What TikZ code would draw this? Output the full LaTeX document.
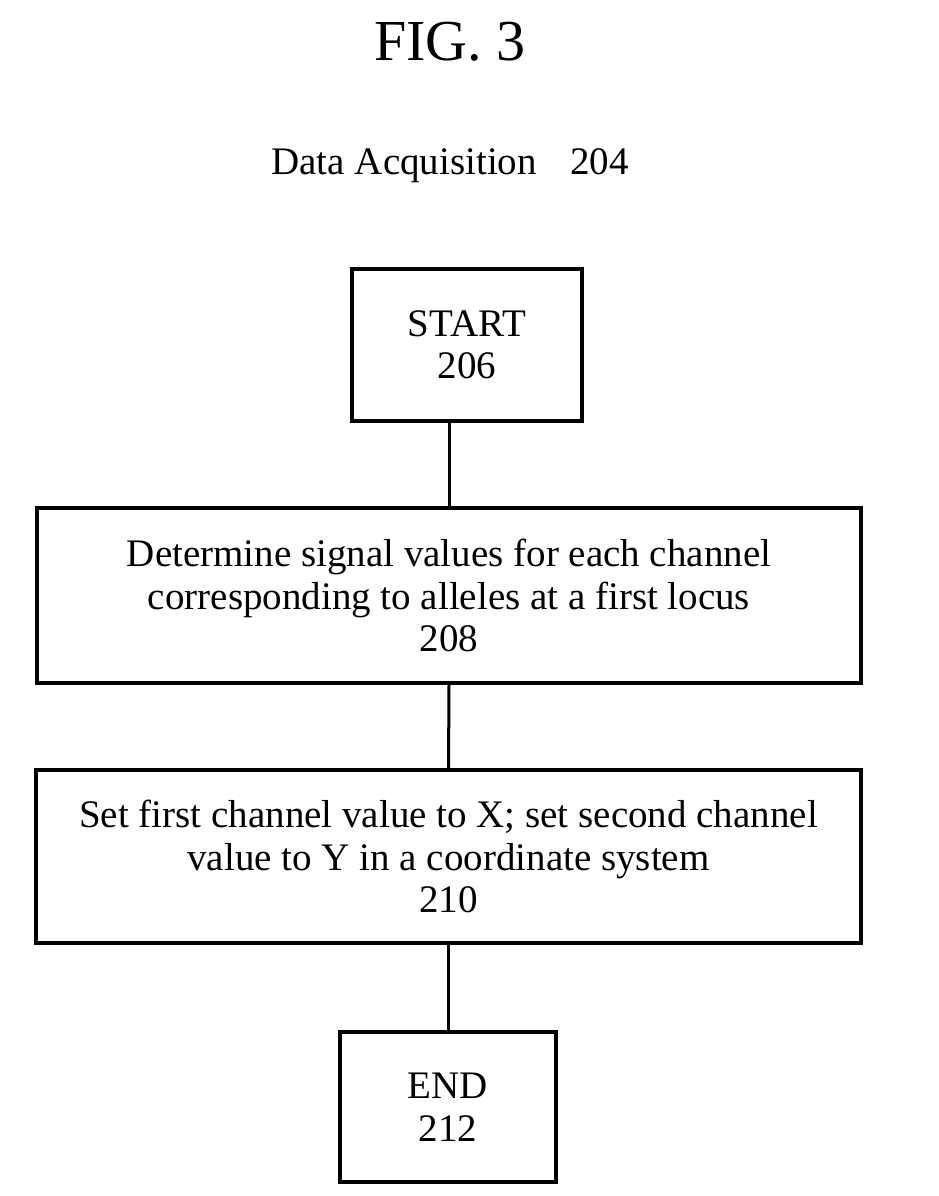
\documentclass[tikz,border=0pt]{standalone}
\usepackage{fontspec}
\setmainfont{Liberation Serif}
\tikzset{
  blk/.style={draw,line width=3.5pt,align=center,inner sep=0pt,font=\fontsize{39}{42.5}\selectfont},
  lnk/.style={line width=3pt}
}

\begin{document}
\begin{tikzpicture}[x=1pt,y=-1pt]
\useasboundingbox (0,0) rectangle (939,1196);
% titles
\node (fig) at (450,42) {\fontsize{58}{58}\selectfont FIG. 3};
\node (hdr) at (450,166) {\fontsize{39}{39}\selectfont Data Acquisition\hspace{0.6em} 204};
% flow boxes
\node[blk,minimum width=230pt,minimum height=152pt] (start) at (467,345) {START\\206};
\node[blk,minimum width=824pt,minimum height=175pt] (det) at (449,595.5) {Determine signal values for each channel\\corresponding to alleles at a first locus\\208};
\node[blk,minimum width=825pt,minimum height=173pt] (setxy) at (448.5,856.5) {Set first channel value to X; set second channel\\value to Y in a coordinate system\\210};
\node[blk,minimum width=216pt,minimum height=150pt] (end) at (448,1107) {END\\212};
% connectors
\draw[lnk] (det.north |- start.south) -- (det.north);
\draw[lnk] (det.south) -- (setxy.north);
\draw[lnk] (setxy.south) -- (setxy.south |- end.north);
\end{tikzpicture}
\end{document}
